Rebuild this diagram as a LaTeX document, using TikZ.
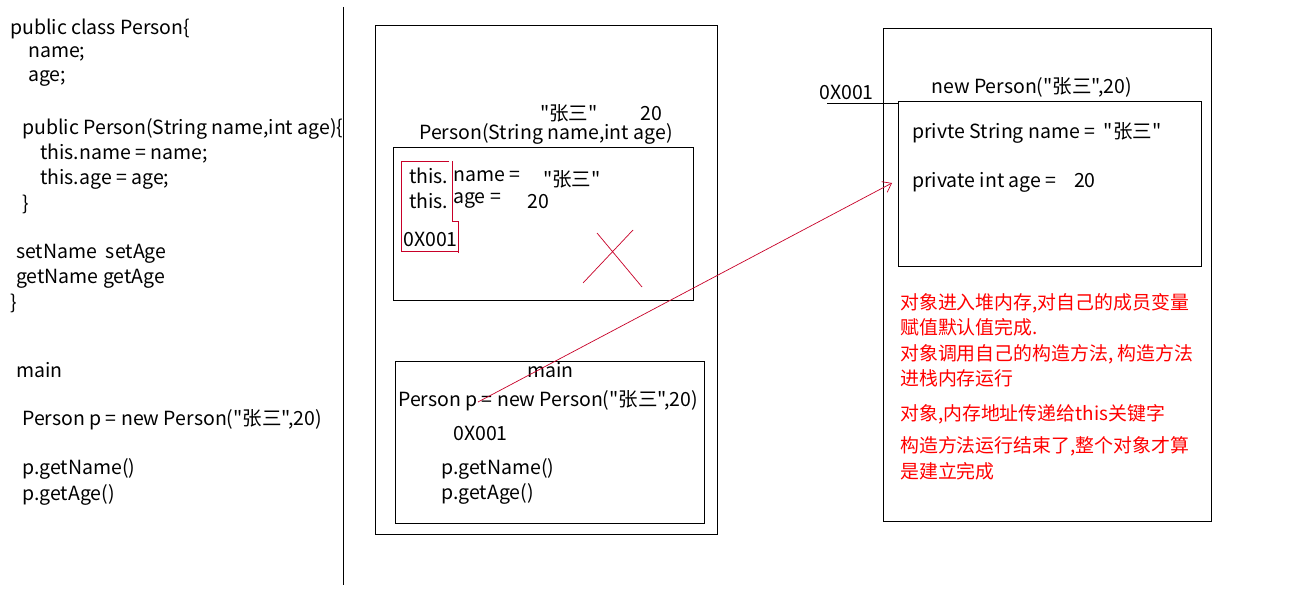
\documentclass[tikz,border=0pt]{standalone}
\usepackage{fontspec}
\newfontfamily\yh{Noto Sans CJK SC}
\usetikzlibrary{arrows.meta}
\definecolor{arrred}{RGB}{200,0,40}
\definecolor{txtred}{RGB}{255,0,0}
\begin{document}
\begin{tikzpicture}[x=1pt,y=-1pt,
  txt/.style={anchor=west,inner sep=0pt,font=\yh\fontsize{19.5}{22}\selectfont},
  rtxt/.style={anchor=west,inner sep=0pt,font=\yh\fontsize{18.9}{22}\selectfont,text=txtred},
  box/.style={draw=black,line width=0.9pt},
  redline/.style={draw=arrred,line width=0.7pt}]
\useasboundingbox[fill=white] (0,0) rectangle (1290,594);
% divider
\draw[line width=1pt] (343,7) -- (343,585);
% left code
\node[txt] (c1) at (10,29) {public class Person\{};
\node[txt] (c2) at (28,54) {name;};
\node[txt] (c3) at (28,79) {age;};
\node[txt] (c4) at (22,129) {public Person(String name,int age)\{};
\node[txt] (c5) at (40,154) {this.name = name;};
\node[txt] (c6) at (40,179) {this.age = age;};
\node[txt] (c7) at (22,204) {\}};
\node[txt] (c8) at (16,254) {setName\ \ setAge};
\node[txt] (c9) at (16,279) {getName getAge};
\node[txt] (c10) at (10,303) {\}};
\node[txt] (c11) at (16,370) {main};
\node[txt] (c12) at (22,420) {Person p = new Person("张三",20)};
\node[txt] (c13) at (22,469) {p.getName()};
\node[txt] (c14) at (22,495) {p.getAge()};
% stack
\draw[box] (375,25) rectangle (717,534);
\node[txt] (sz) at (540,113) {"张三"};
\node[txt] (s20) at (640,114) {20};
\node[txt] (sp) at (419,134) {Person(String name,int age)};
\draw[box] (393,147) rectangle (693,300);
\node[txt] (t1) at (409,176) {this.};
\node[txt] (t2) at (453,176) {name =};
\node[txt] (t3) at (543,179) {"张三"};
\node[txt] (t4) at (409,201) {this.};
\node[txt] (t5) at (453,201) {age =};
\node[txt] (t6) at (527,202) {20};
\node[txt] (t7) at (403,239) {0X001};
\draw[redline] (449,161) -- (401,161) -- (401,251) -- (458,251) (458,253) -- (458,221) -- (452,221) -- (452,161);
\draw[redline] (583,283) -- (633,230) (597,233) -- (642,287);
\draw[box] (395,361) rectangle (704,523);
\node[txt] (m1) at (527,370) {main};
\node[txt] (m2) at (398,401) {Person p = new Person("张三",20)};
\node[txt] (m3) at (453,433) {0X001};
\node[txt] (m4) at (441,469) {p.getName()};
\node[txt] (m5) at (441,494) {p.getAge()};
% heap
\draw[box] (883,28) rectangle (1211,521);
\node[txt] (h0) at (819,92) {0X001};
\node[txt] (h1) at (931,87) {new Person("张三",20)};
\draw[box] (898,101) rectangle (1201,266);
\coordinate (hl) at (827,103);
\coordinate (hr) at (898,103);
\draw[line width=0.9pt] (hl) -- (hr);
\node[txt] (h2) at (912,133) {privte String name = \ "张三"};
\node[txt] (h3) at (912,182) {private int age = \ \ \ 20};
\coordinate (aS) at (478,402);
\coordinate (aE) at (892,183);
\draw[redline,-{Straight Barb[length=8pt,width=12pt]}] (aS) -- (aE);
% notes
\node[rtxt] (n1) at (900,303) {对象进入堆内存,对自己的成员变量};
\node[rtxt] (n2) at (900,327) {赋值默认值完成.};
\node[rtxt] (n3) at (900,354) {对象调用自己的构造方法, 构造方法};
\node[rtxt] (n4) at (900,378) {进栈内存运行};
\node[rtxt] (n5) at (900,414) {对象,内存地址传递给this关键字};
\node[rtxt] (n6) at (900,446) {构造方法运行结束了,整个对象才算};
\node[rtxt] (n7) at (900,471) {是建立完成};
\end{tikzpicture}
\end{document}
